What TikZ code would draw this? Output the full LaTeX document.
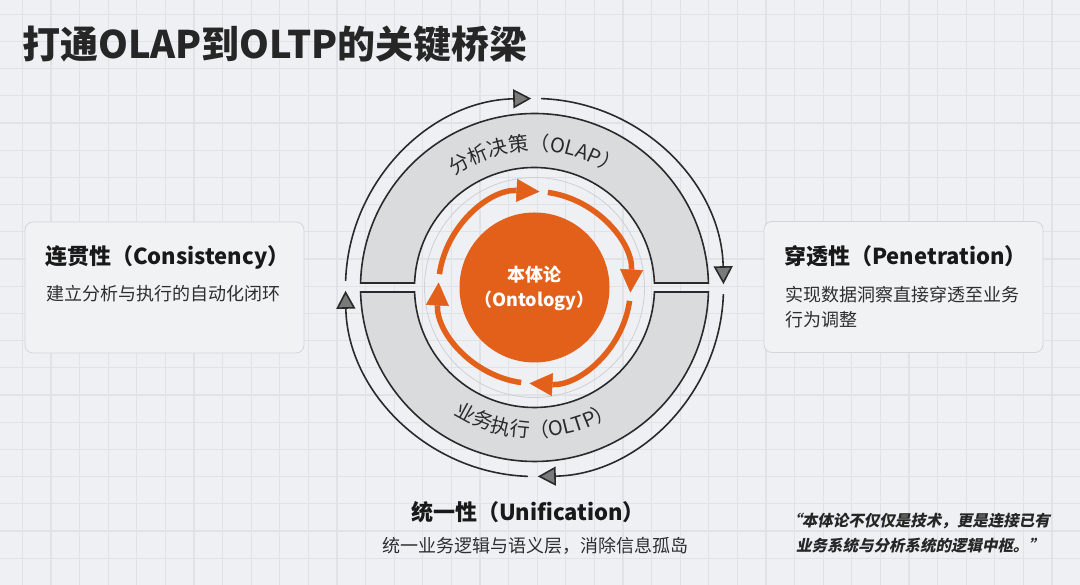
\documentclass[tikz,border=0pt]{standalone}
\usepackage{fontspec}
\setmainfont{Noto Sans CJK SC}
\newfontfamily\quotefont[FakeSlant=0.2]{Noto Sans CJK SC}
\usetikzlibrary{arrows.meta,decorations.text}
\definecolor{bg}{HTML}{EEF0F3}
\definecolor{gridc}{HTML}{DFE2E6}
\definecolor{cardfill}{HTML}{F1F2F4}
\definecolor{cardline}{HTML}{D2D5D9}
\definecolor{bandfill}{HTML}{DADBDD}
\definecolor{ink}{HTML}{2A2A2A}
\definecolor{orangec}{HTML}{E2601A}
\definecolor{arrowgray}{HTML}{7A7A7A}
\definecolor{ringgray}{HTML}{CFD0D2}
\begin{document}
\begin{tikzpicture}[x=1pt,y=1pt,
 card/.style={draw=cardline, fill=cardfill, rounded corners=8pt, line width=0.8pt, minimum width=279pt, minimum height=131pt, inner sep=0pt},
 cardtitle/.style={anchor=base west, inner sep=0pt, font=\fontsize{22}{26}\selectfont\bfseries, text=black!90},
 cardtext/.style={anchor=base west, inner sep=0pt, font=\fontsize{18}{22}\selectfont, text=black!82},
 band/.style={fill=bandfill, draw=ink, line width=1.6pt},
 outring/.style={draw=ink, line width=1.6pt, -{Triangle[length=18pt,width=19pt,fill=arrowgray]}},
 orring/.style={draw=orangec, line width=5.5pt, -{Triangle[length=23pt,width=23pt,line width=0.5pt]}},
 bandtext/.style={decorate, decoration={text along path, text align=center, text color=ink}},
]
\useasboundingbox (0,0) rectangle (1080,585);
\fill[bg] (0,0) rectangle (1080,585);
% grid
\foreach \i in {0,...,37} {\draw[gridc, line width=1.2pt] ({22.3+28.6*\i},0) -- ({22.3+28.6*\i},585);}
\foreach \j in {0,...,21} {\draw[gridc, line width=1.2pt] (0,{585-14.3-27.2*\j}) -- (1080,{585-14.3-27.2*\j});}

% title
\node[anchor=base west, inner sep=0pt, font=\fontsize{38}{44}\selectfont\bfseries, text=black!85] (title) at (22,526) {打通OLAP到OLTP的关键桥梁};

% left card
\node[card] (lcard) at (164.5,297.5) {};
\node[cardtitle] (ltitle) at (45,320.6) {连贯性（Consistency）};
\node[cardtext] (ltext) at (46,284.2) {建立分析与执行的自动化闭环};

% right card
\node[card] (rcard) at (903.5,298) {};
\node[cardtitle] (rtitle) at (784,320.6) {穿透性（Penetration）};
\node[cardtext] (rtext1) at (785,283.2) {实现数据洞察直接穿透至业务};
\node[cardtext] (rtext2) at (785,258.2) {行为调整};

% bottom label
\node[anchor=base, inner sep=0pt, font=\fontsize{22}{26}\selectfont\bfseries, text=black!90] (btitle) at (528,64.6) {统一性（Unification）};
\node[anchor=base, inner sep=0pt, font=\fontsize{18}{22}\selectfont, text=black!82] (btext) at (535.5,32.2) {统一业务逻辑与语义层，消除信息孤岛};

% quote
\node[anchor=base, inner sep=0pt, font=\quotefont\bfseries\fontsize{15.5}{20}\selectfont, text=black!85] (quote1) at (918,58) {“本体论不仅仅是技术，更是连接已有};
\node[anchor=base, inner sep=0pt, font=\quotefont\bfseries\fontsize{15.5}{20}\selectfont, text=black!85] (quote2) at (920,33) {业务系统与分析系统的逻辑中枢。”};

\begin{scope}[shift={(534.5,297.5)}]
  % gray band halves
  \path[band] (1.48:174) arc[start angle=1.48,end angle=178.52,radius=174] -- (177.85:120) arc[start angle=177.85,end angle=2.15,radius=120] -- cycle;
  \path[band] (-1.48:174) arc[start angle=-1.48,end angle=-178.52,radius=174] -- (-177.85:120) arc[start angle=-177.85,end angle=-2.15,radius=120] -- cycle;
  % band texts
  \path[bandtext, decoration={text={|\fontsize{20}{23}\selectfont|分析决策（OLAP）}}] (150:137) arc[start angle=150,end angle=30,radius=137];
  \path[bandtext, decoration={text={|\fontsize{20}{23}\selectfont|业务执行（OLTP）}}] (-150:150) arc[start angle=-150,end angle=-30,radius=150];
  % outer ring arrows
  \foreach \s/\e in {178/91, 88/1, -2/-89, -92/-179}
    {\draw[outring] (\s:189) arc[start angle=\s,end angle=\e,radius=189];}
  % thin gray ring
  \draw[ringgray, line width=0.8pt] (0,0) circle[radius=110];
  % orange ring arrows
  \foreach \s/\e in {172/87, 82/-3, -8/-93, -98/-183}
    {\draw[orring] (\s:96) arc[start angle=\s,end angle=\e,radius=96];}
  % core
  \node[circle, fill=orangec, minimum size=150pt, inner sep=0pt] (core) at (0,0) {};
\end{scope}
\node[anchor=base, inner sep=0pt, font=\fontsize{18}{22}\selectfont\bfseries, text=white] (core1) at (534.5,303.5) {本体论};
\node[anchor=base, inner sep=0pt, font=\fontsize{18}{22}\selectfont\bfseries, text=white] (core2) at (534.5,278) {（Ontology）};
\end{tikzpicture}
\end{document}
